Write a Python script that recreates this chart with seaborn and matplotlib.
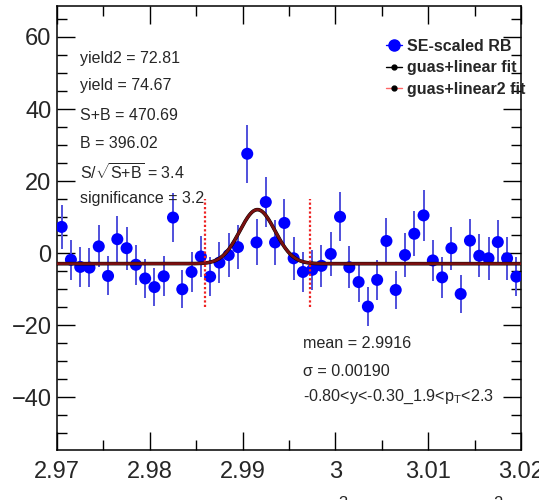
import numpy as np
import pandas as pd
import matplotlib
matplotlib.use("Agg")
import matplotlib.pyplot as plt
import seaborn as sns
from matplotlib.lines import Line2D
from matplotlib.ticker import MultipleLocator

# ---- data ----
bin_width = 0.001
mass_centers = np.round(2.9705 + bin_width * np.arange(50), 4)
counts = [7.3, -1.8, -3.8, -4.0, 1.9, -6.3, 3.9, 1.4, -3.2, -7.0,
          -9.4, -6.4, 9.9, -10.0, -5.2, -0.9, -6.5, -2.6, -0.5, 1.7,
          27.6, 3.0, 14.2, 3.0, 8.4, -1.4, -5.2, -4.6, -3.5, -0.2,
          10.1, -3.9, -8.0, -14.8, -7.4, 3.4, -10.2, -0.5, 5.4, 10.5,
          -2.0, -6.7, 1.4, -11.3, 3.5, -0.7, -1.4, 3.1, -1.4, -6.5]
errors = [6.0, 5.6, 5.5, 5.5, 5.8, 5.4, 6.3, 6.0, 5.6, 5.5,
          5.3, 5.6, 6.8, 5.3, 5.5, 5.8, 5.5, 5.8, 6.0, 6.2,
          8.0, 6.4, 7.0, 6.3, 6.6, 5.9, 5.6, 5.6, 5.8, 6.0,
          6.8, 5.8, 5.6, 5.5, 5.6, 6.3, 5.4, 6.0, 6.3, 7.0,
          5.8, 5.6, 6.0, 5.2, 6.1, 5.9, 5.9, 6.1, 5.9, 5.4]

# fit parameters
fit_mean = 2.9916
fit_sigma = 0.00190
fit_amp = 15.0
fit_bkg = -2.9

stat_lines = ["yield2 = 72.81", "yield = 74.67", "S+B = 470.69", "B = 396.02",
              r"S$\mathregular{/\sqrt{S{+}B}}$ = 3.4", "significance = 3.2"]
info_lines = ["mean = 2.9916", "\u03c3 = 0.00190",
              r"-0.80<y<-0.30_1.9<$\mathregular{p_{T}}$<2.3"]
legend_labels = ["SE-scaled RB", "guas+linear fit", "guas+linear2 fit"]
xticks = [2.97, 2.98, 2.99, 3.00, 3.01, 3.02]
xtick_labels = ["2.97", "2.98", "2.99", "3", "3.01", "3.02"]
yticks = [-40, -20, 0, 20, 40, 60]
yticklabels = ["\u221240", "\u221220", "0", "20", "40", "60"]

# ---- style ----
sns.set_theme(style="white")
plt.rcParams["font.family"] = ["Liberation Sans", "DejaVu Sans"]
plt.rcParams["mathtext.fontset"] = "custom"
plt.rcParams["mathtext.rm"] = "Liberation Sans"
plt.rcParams["mathtext.it"] = "Liberation Sans:italic"

fig = plt.figure(figsize=(5.39, 5.0), dpi=100)
ax = fig.add_axes([57 / 539, 1 - 450 / 500, (521 - 57) / 539, (450 - 6) / 500])

df = pd.DataFrame({"mass": mass_centers, "counts": counts, "err": errors})

# error bars
ax.vlines(df["mass"], df["counts"] - df["err"], df["counts"] + df["err"],
          colors="#5050dc", linewidth=1.4, zorder=2)
# points
sns.scatterplot(data=df, x="mass", y="counts", ax=ax, color="#0000ff",
                s=75, edgecolor="none", zorder=3, legend=False)

# fit curves
xfit = np.linspace(2.97, 3.02, 600)
yfit = fit_bkg + fit_amp * np.exp(-0.5 * ((xfit - fit_mean) / fit_sigma) ** 2)
fit_df = pd.DataFrame({"mass": xfit, "fit": yfit})
sns.lineplot(data=fit_df, x="mass", y="fit", ax=ax, color="black", linewidth=2.6, zorder=4)
sns.lineplot(data=fit_df, x="mass", y="fit", ax=ax, color="#7a1010", linewidth=2.0, zorder=5)

# signal window lines (mean +- 3 sigma)
for xv in [fit_mean - 3 * fit_sigma, fit_mean + 3 * fit_sigma]:
    ax.plot([xv, xv], [-15, 15], color="#ee2222", linestyle=(0, (1.0, 1.0)),
            linewidth=1.6, zorder=4)

ax.set_xlim(2.97, 3.02)
ax.set_ylim(-54.6, 68.6)
ax.set_xticks(xticks)
ax.set_xticklabels(xtick_labels)
ax.set_yticks(yticks)
ax.set_yticklabels(yticklabels)
ax.xaxis.set_minor_locator(MultipleLocator(0.005))
ax.yaxis.set_minor_locator(MultipleLocator(5))
ax.tick_params(axis="both", which="major", direction="in", length=13, width=1,
               labelsize=17, top=True, right=True, left=True, bottom=True,
               color="black", pad=4)
ax.tick_params(axis="both", which="minor", direction="in", length=7, width=1,
               top=True, right=True, left=True, bottom=True, color="black")
ax.tick_params(axis="x", pad=8)
ax.set_xlabel("")
ax.set_ylabel("")
for sp in ax.spines.values():
    sp.set_color("black")
    sp.set_linewidth(1.1)
    sp.set_visible(True)

# legend
handles = [
    Line2D([0], [0], color="#0000ff", marker="o", markersize=8, linewidth=1),
    Line2D([0], [0], color="black", marker="o", markersize=3.5, linewidth=1),
    Line2D([0], [0], color="#ff6666", marker="o", markersize=3.5,
           markerfacecolor="black", markeredgecolor="black", linewidth=1),
]
ax.legend(handles, legend_labels, loc="upper left", bbox_to_anchor=(0.695, 0.94),
          frameon=False, prop={"weight": "bold", "size": 11.5}, handlelength=1.0,
          handletextpad=0.3, labelspacing=0.4, borderaxespad=0)

# stat text
stat_y = [58, 86, 115, 144, 173, 199]
for txt, yp in zip(stat_lines, stat_y):
    fig.text(80 / 539, 1 - yp / 500, txt, fontsize=11.5, va="center", ha="left")

info_y = [343, 371, 397]
for txt, yp in zip(info_lines, info_y):
    fig.text(303 / 539, 1 - yp / 500, txt, fontsize=11.6, va="center", ha="left")

# x axis title (cut by the frame edge, as in the reference)
fig.text(512 / 539, -18 / 500,
         r"M($\mathregular{^{3}}$He$\mathregular{\pi^{-}}$) (GeV/$\mathregular{c^{2}}$)",
         fontsize=17, ha="right", va="baseline")

fig.savefig("out.png", dpi=100)
